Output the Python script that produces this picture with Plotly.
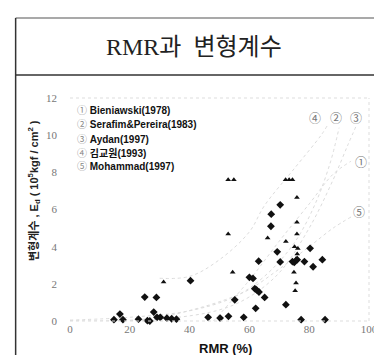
import plotly.graph_objects as go

# ---- measured data (black diamonds) ----
dia_x = [14.7, 16.7, 17.7, 22.9, 25.9, 26.7, 28.0, 29.1, 30.2, 32.4, 34.0, 35.6,
         25.0, 28.9, 40.3, 46.2, 50.2, 53.0, 58.1, 55.1, 62.1, 65.1,
         61.8, 62.4, 63.2, 60.0, 61.2, 63.1, 67.2, 67.3, 70.3, 69.3, 70.3,
         72.2, 74.4, 75.0, 76.0, 77.3, 78.4, 80.3, 81.3, 84.4, 85.3]
dia_y = [0.07, 0.37, 0.07, 0.10, 0.02, 0.0, 0.48, 0.20, 0.20, 0.15, 0.12, 0.10,
         1.29, 1.27, 2.17, 0.20, 0.16, 0.25, 0.20, 1.14, 0.68, 1.27,
         1.74, 1.67, 1.56, 2.35, 2.29, 3.22, 5.10, 5.75, 6.25, 3.72, 3.18,
         0.88, 3.20, 3.15, 3.30, 0.07, 3.20, 3.91, 2.92, 3.30, 0.07]

# ---- measured data (black triangles) ----
tri_x = [31.3, 52.9, 54.8, 72.1, 73.3, 74.4, 75.9, 52.9, 54.4, 66.1, 72.2,
         75.9, 75.9, 75.1, 76.2, 76.0, 75.6, 74.9, 75.6, 75.3]
tri_y = [2.10, 7.60, 7.60, 7.60, 7.60, 7.60, 6.65, 4.68, 2.63, 4.46, 4.28,
         5.31, 4.68, 4.00, 3.90, 3.60, 3.35, 2.63, 2.04, 1.63]

c1_x = [48, 60, 70, 80, 88, 94]
c1_y = [0.0, 2.2, 4.3, 6.3, 7.9, 8.6]
c2_x = [0, 20, 40, 55, 65, 75, 82, 87, 90]
c2_y = [0.05, 0.2, 0.55, 1.3, 2.4, 4.2, 6.3, 8.5, 10.4]
c3_x = [0, 30, 50, 60, 70, 80, 88, 93, 96]
c3_y = [0.0, 0.1, 0.6, 1.3, 2.6, 5.0, 7.6, 9.5, 10.6]
c4_x = [30, 40, 50, 60, 65, 75, 84, 86]
c4_y = [2.3, 2.4, 3.3, 4.8, 6.2, 8.2, 10.0, 10.5]
c5_x = [0, 15, 30, 42, 52, 60, 70, 80, 88, 94]
c5_y = [0.0, 0.0, 0.2, 0.65, 1.15, 1.7, 2.8, 4.0, 5.0, 5.6]

legend_marks = ["①", "②", "③", "④", "⑤"]
legend_names = ["Bieniawski(1978)", "Serafim&Pereira(1983)", "Aydan(1997)",
                "김교원(1993)", "Mohammad(1997)"]

curve_label_x = [97.3, 89.0, 95.7, 82.0, 96.8]
curve_label_y = [8.6, 10.95, 10.95, 10.95, 5.9]

x_ticks = [0, 20, 40, 60, 80, 100]
y_ticks = [0, 2, 4, 6, 8, 10, 12]

title_text = "RMR과  변형계수"

fig = go.Figure()

for cx, cy in [(c1_x, c1_y), (c2_x, c2_y), (c3_x, c3_y), (c4_x, c4_y), (c5_x, c5_y)]:
    fig.add_trace(go.Scatter(x=cx, y=cy, mode="lines",
                             line=dict(color="#dcdcdc", width=1, dash="dot"),
                             line_shape="spline", cliponaxis=True, showlegend=False))

fig.add_trace(go.Scatter(x=dia_x, y=dia_y, mode="markers",
                         marker=dict(symbol="diamond", size=6, color="#111"),
                         cliponaxis=False, showlegend=False))
fig.add_trace(go.Scatter(x=tri_x, y=tri_y, mode="markers",
                         marker=dict(symbol="triangle-up", size=5, color="#111"),
                         cliponaxis=False, showlegend=False))

font_sans = "Liberation Sans, Arial, Noto Sans CJK KR, sans-serif"

fig.update_layout(
    width=382, height=355,
    margin=dict(l=62, r=12, t=90, b=42),
    paper_bgcolor="white", plot_bgcolor="white",
    showlegend=False,
    xaxis=dict(range=[0, 100], tickvals=x_ticks, showgrid=False, zeroline=False,
               showline=False, ticks="",
               tickfont=dict(family="Liberation Serif, serif", size=11, color="#777")),
    yaxis=dict(range=[0, 12], tickvals=y_ticks, showgrid=False, zeroline=False,
               showline=False, ticks="", ticklabelstandoff=12,
               tickfont=dict(family="Liberation Serif, serif", size=11, color="#777")),
)

# faint dotted frame of the plotting area
for (x0, y0, x1, y1) in [(0, 0, 1, 0), (0, 1, 1, 1), (1, 0, 1, 1)]:
    fig.add_shape(type="line", xref="paper", yref="paper", x0=x0, y0=y0, x1=x1, y1=y1,
                  line=dict(color="#dddddd", width=1, dash="dot"))

# outer title box lines
box_left, box_right = -0.1818, 1.04
box_top, box_mid, box_bottom = 1.3587, 1.1031, -0.19
fig.add_shape(type="line", xref="paper", yref="paper", x0=box_left, x1=box_right,
              y0=box_top, y1=box_top, line=dict(color="#555", width=1.2))
fig.add_shape(type="line", xref="paper", yref="paper", x0=box_left, x1=box_right,
              y0=box_mid, y1=box_mid, line=dict(color="#333", width=1.5))
fig.add_shape(type="line", xref="paper", yref="paper", x0=box_left, x1=box_left,
              y0=box_top, y1=box_bottom, line=dict(color="#333", width=1.5))

# title
fig.add_annotation(text=title_text, xref="paper", yref="paper", x=0.4156, y=1.228,
                   showarrow=False, xanchor="center", yanchor="middle",
                   font=dict(family="Liberation Serif, Noto Sans CJK KR, serif", size=24,
                             color="#222"))

# legend lines
leg_y = [0.942, 0.879, 0.816, 0.753, 0.692]
for m, n, yy in zip(legend_marks, legend_names, leg_y):
    fig.add_annotation(text=f"<span style='color:#888'>{m}</span> <b>{n}</b>",
                       xref="paper", yref="paper", x=0.018, y=yy, showarrow=False,
                       xanchor="left", yanchor="middle",
                       font=dict(family=font_sans, size=10, color="#111"))

# curve labels
for m, lx, ly in zip(legend_marks, curve_label_x, curve_label_y):
    fig.add_annotation(text=m, x=lx, y=ly, showarrow=False,
                       font=dict(family="Noto Sans CJK KR, DejaVu Sans", size=12, color="#777"))

# axis titles
fig.add_annotation(text="<b>변형계수 , E<sub>d</sub> ( 10<sup>5</sup>kgf / cm<sup>2</sup> )</b>",
                   xref="paper", yref="paper", x=-0.12, y=0.583, textangle=-90,
                   showarrow=False, xanchor="center", yanchor="middle",
                   font=dict(family=font_sans, size=11, color="#222"))
fig.add_annotation(text="<b>RMR (%)</b>", xref="paper", yref="paper", x=0.52, y=-0.122,
                   showarrow=False, xanchor="center", yanchor="middle",
                   font=dict(family=font_sans, size=13, color="#111"))

fig.write_html("out.html")
